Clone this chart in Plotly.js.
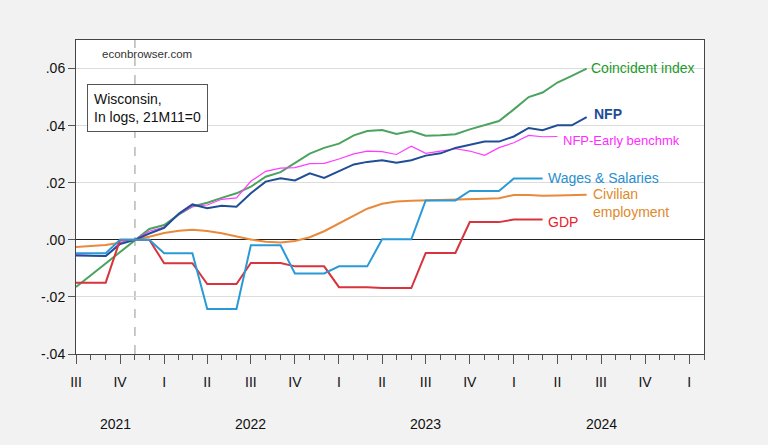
<!DOCTYPE html>
<html>
<head>
<meta charset="utf-8">
<script src="https://cdn.plot.ly/plotly-3.0.1.min.js"></script>
<style>
html,body{margin:0;padding:0;background:#f2f2f2;}
#chart{width:768px;height:445px;}
</style>
</head>
<body>
<div id="chart"></div>
<script>
// Monthly dates, 2021M07 .. 2024M06
const months = ['2021-07-01','2021-08-01','2021-09-01','2021-10-01','2021-11-01','2021-12-01',
  '2022-01-01','2022-02-01','2022-03-01','2022-04-01','2022-05-01','2022-06-01',
  '2022-07-01','2022-08-01','2022-09-01','2022-10-01','2022-11-01','2022-12-01',
  '2023-01-01','2023-02-01','2023-03-01','2023-04-01','2023-05-01','2023-06-01',
  '2023-07-01','2023-08-01','2023-09-01','2023-10-01','2023-11-01','2023-12-01',
  '2024-01-01','2024-02-01','2024-03-01','2024-04-01','2024-05-01','2024-06-01'];

const coincident = [-0.0165,-0.0124,-0.0083,-0.0041,0,0.0038,
  0.0052,0.0089,0.0117,0.0130,0.0147,0.0163,
  0.0186,0.0221,0.0237,0.0270,0.0302,0.0322,
  0.0337,0.0366,0.0381,0.0385,0.0371,0.0381,
  0.0365,0.0366,0.0370,0.0387,0.0402,0.0416,
  0.0457,0.0500,0.0516,0.0551,0.0574,0.0600];

const nfp = [-0.0055,-0.0055,-0.0057,-0.0015,0,0.0022,
  0.0042,0.0092,0.0124,0.0111,0.0119,0.0116,
  0.0163,0.0204,0.0216,0.0208,0.0233,0.0217,
  0.0240,0.0264,0.0273,0.0279,0.0270,0.0279,
  0.0295,0.0303,0.0322,0.0334,0.0344,0.0344,
  0.0362,0.0392,0.0384,0.0401,0.0401,0.0430];

const nfpEarly = [-0.0052,-0.0055,-0.0058,-0.0010,0,0.0030,
  0.0045,0.0090,0.0118,0.0122,0.0142,0.0147,
  0.0205,0.0240,0.0251,0.0253,0.0267,0.0268,
  0.0283,0.0301,0.0311,0.0309,0.0299,0.0328,
  0.0303,0.0311,0.0319,0.0311,0.0296,0.0323,
  0.0340,0.0366,0.0361,0.0362];

const wages = [-0.0047,-0.0047,-0.0047, 0,0,0,
  -0.0047,-0.0047,-0.0047, -0.0242,-0.0242,-0.0242,
  -0.0019,-0.0019,-0.0019, -0.0118,-0.0118,-0.0118,
  -0.0093,-0.0093,-0.0093, 0.0002,0.0002,0.0002,
  0.0138,0.0138,0.0138, 0.0171,0.0171,0.0171,
  0.0215,0.0215,0.0215];

const civilian = [-0.0025,-0.0022,-0.0018,-0.0010,0,0.0011,
  0.0024,0.0032,0.0035,0.0031,0.0023,0.0012,
  0.0001,-0.0007,-0.0009,-0.0004,0.0009,0.0030,
  0.0058,0.0085,0.0109,0.0126,0.0134,0.0137,
  0.0138,0.0139,0.0140,0.0142,0.0144,0.0146,
  0.0157,0.0157,0.0154,0.0155,0.0157,0.0158];

const gdp = [-0.0150,-0.0150,-0.0150, 0,0,0,
  -0.0082,-0.0082,-0.0082, -0.0155,-0.0155,-0.0155,
  -0.0081,-0.0081,-0.0081, -0.0093,-0.0093,-0.0093,
  -0.0166,-0.0166,-0.0166, -0.0169,-0.0169,-0.0169,
  -0.0046,-0.0046,-0.0046, 0.0062,0.0062,0.0062,
  0.0071,0.0071,0.0071];

const quarterTicks = ['2021-07-01','2021-10-01','2022-01-01','2022-04-01','2022-07-01','2022-10-01',
  '2023-01-01','2023-04-01','2023-07-01','2023-10-01','2024-01-01','2024-04-01','2024-07-01',
  '2024-10-01','2025-01-01'];
const quarterLabels = ['III','IV','I','II','III','IV','I','II','III','IV','I','II','III','IV','I'];
const yearLabels = ['2021','2022','2023','2024'];
const yearPos = ['2021-09-22','2022-07-01','2023-07-01','2024-07-01'];
const yTicks = [-0.04,-0.02,0,0.02,0.04,0.06];
const yLabels = ['-.04','-.02','.00','.02','.04','.06'];
const baseMonth = '2021-11-01';

const C = {green:'#4ca35f', nfp:'#1f4e96', early:'#ff3cff', wages:'#2a9ad6', civ:'#e8893b', gdp:'#d8343d'};

function tr(x, y, color, width){
  return {x:x, y:y, type:'scatter', mode:'lines', line:{color:color, width:width}, hoverinfo:'skip', showlegend:false};
}
const data = [
  tr(months, civilian, C.civ, 2),
  tr(months, coincident, C.green, 2),
  tr(months.slice(0, nfpEarly.length), nfpEarly, C.early, 1.2),
  tr(months, nfp, C.nfp, 2),
  tr(months.slice(0, gdp.length), gdp, C.gdp, 2),
  tr(months.slice(0, wages.length), wages, C.wages, 2)
];

function last(arr){ return arr[arr.length-1]; }
const lbl = 'Liberation Sans, Arial, sans-serif';
const annotations = [
  {x: months[coincident.length-1], y: last(coincident), xref:'x', yref:'y', text:'Coincident index', showarrow:false, xanchor:'left', yanchor:'middle', xshift:2, yshift:1, font:{family:lbl, size:14, color:'#1e9a2a'}},
  {x: months[nfp.length-1], y: last(nfp), xref:'x', yref:'y', text:'<b>NFP</b>', showarrow:false, xanchor:'left', yanchor:'middle', xshift:5, yshift:3, font:{family:lbl, size:14, color:'#1f4e96'}},
  {x: months[nfpEarly.length-1], y: last(nfpEarly), xref:'x', yref:'y', text:'NFP-Early benchmk', showarrow:false, xanchor:'left', yanchor:'middle', xshift:4, yshift:-4, font:{family:lbl, size:13, color:'#ff2cff'}},
  {x: months[wages.length-1], y: last(wages), xref:'x', yref:'y', text:'Wages &amp; Salaries', showarrow:false, xanchor:'left', yanchor:'middle', xshift:3, yshift:0, font:{family:lbl, size:14, color:'#2a8fd0'}},
  {x: months[civilian.length-1], y: last(civilian), xref:'x', yref:'y', text:'Civilian<br>employment', showarrow:false, xanchor:'left', yanchor:'top', align:'left', xshift:4, yshift:11, font:{family:lbl, size:14, color:'#e0892a'}},
  {x: months[gdp.length-1], y: last(gdp), xref:'x', yref:'y', text:'GDP', showarrow:false, xanchor:'left', yanchor:'middle', xshift:3, yshift:-2, font:{family:lbl, size:14, color:'#e8202a'}},
  {x: 0.038, y: 0.955, xref:'paper', yref:'paper', text:'econbrowser.com', showarrow:false, xanchor:'left', yanchor:'middle', font:{family:lbl, size:11.5, color:'#333'}},
  {x: 0.0175, y: 0.86, xref:'paper', yref:'paper', text:'Wisconsin,<br>In logs, 21M11=0', showarrow:false, xanchor:'left', yanchor:'top', align:'left', bgcolor:'#ffffff', bordercolor:'#555', borderwidth:1, borderpad:6, font:{family:lbl, size:14, color:'#111'}}
];
yearLabels.forEach((t,i)=>{
  annotations.push({x: yearPos[i], y: 0, xref:'x', yref:'paper', text:t, showarrow:false, xanchor:'center', yanchor:'top', yshift:-60, font:{family:lbl, size:14, color:'#111'}});
});

const layout = {
  width:768, height:445,
  margin:{l:76, r:64, t:40, b:91, pad:0},
  paper_bgcolor:'#f2f2f2',
  plot_bgcolor:'#ffffff',
  font:{family:lbl, size:14, color:'#111'},
  showlegend:false,
  xaxis:{
    type:'date', range:['2021-07-01','2025-02-01'],
    tickmode:'array', tickvals:quarterTicks, ticktext:quarterLabels,
    ticks:'outside', ticklen:9, tickcolor:'#555', tickwidth:1,
    ticklabelstandoff:6,
    minor:{tickmode:'linear', tick0:'2021-07-01', dtick:'M1', ticks:'outside', ticklen:5, tickcolor:'#555', showgrid:false},
    showgrid:false, zeroline:false,
    showline:true, linecolor:'#444', linewidth:1, mirror:true,
    tickfont:{family:lbl, size:14, color:'#111'}
  },
  yaxis:{
    range:[-0.04, 0.07],
    tickmode:'array', tickvals:yTicks, ticktext:yLabels,
    ticks:'outside', ticklen:7, tickcolor:'#555',
    showgrid:true, gridcolor:'#dcdcdc', gridwidth:1,
    zeroline:true, zerolinecolor:'#222', zerolinewidth:1,
    showline:true, linecolor:'#444', linewidth:1, mirror:true,
    tickfont:{family:lbl, size:14, color:'#111'}
  },
  shapes:[
    {type:'line', xref:'x', yref:'paper', x0:baseMonth, x1:baseMonth, y0:0, y1:1, line:{color:'#b8b8b8', width:1.5, dash:'dash'}, layer:'below'}
  ],
  annotations:annotations
};

Plotly.newPlot('chart', data, layout, {staticPlot:true, displayModeBar:false});
</script>
</body>
</html>
